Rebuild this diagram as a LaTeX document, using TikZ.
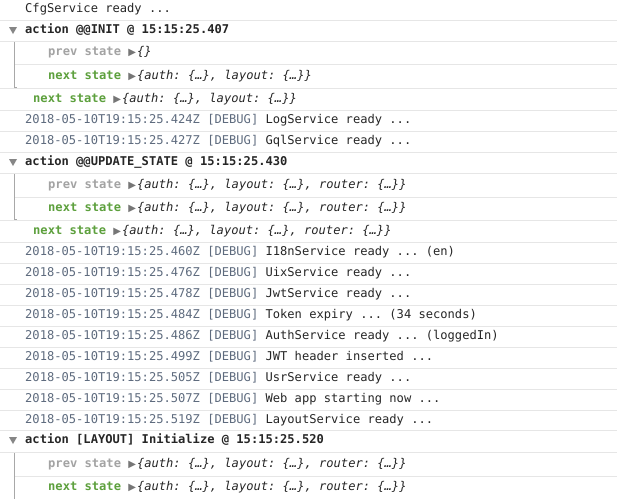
\documentclass[tikz,border=0pt]{standalone}
\usepackage{fontspec}
\setmonofont{DejaVu Sans Mono}
\newfontfamily\symfont{DejaVu Sans}
\definecolor{stampcol}{HTML}{5E6B7E}
\definecolor{msgcol}{HTML}{262626}
\definecolor{prevcol}{HTML}{A3A3A3}
\definecolor{nextcol}{HTML}{5DA03D}
\definecolor{sepcol}{HTML}{E6E6E6}
\definecolor{grpcol}{HTML}{A8A8A8}
\newcommand{\objtri}{{\color{grpcol!70!black}\symfont\fontsize{10}{10}\selectfont ▶}\kern1pt}
\newcommand{\prevst}[1]{{\color{prevcol}\bfseries prev state} \objtri{\itshape\color{msgcol}#1}}
\newcommand{\nextst}[1]{{\color{nextcol}\bfseries next state} \objtri{\itshape\color{msgcol}#1}}
\newcommand{\logrow}[2]{{\color{stampcol}#1 [DEBUG]} {\color{msgcol}#2}}
\begin{document}
\begin{tikzpicture}[x=1pt, y=-1pt,
  logtext/.style={anchor=west, inner sep=0pt, font=\ttfamily\fontsize{12.1}{14}\selectfont, text=msgcol},
  sepline/.style={sepcol, line width=0.8pt},
  grpline/.style={grpcol, line width=0.8pt},
  opentri/.style={fill=grpcol!80!black, draw=none}]
  \useasboundingbox[fill=white] (0,0) rectangle (617,499);
  % separators
  \foreach \y in {20,41,88,110,131,152,173,220,242,263,284,305,326,347,368,389,410,430,452}
    \draw[sepline] (0,\y) -- (617,\y);
  \foreach \y in {64,197,476}
    \draw[sepline] (14,\y) -- (617,\y);
  % group brackets
  \draw[grpline] (14,42) -- (14,87) -- (17,87);
  \draw[grpline] (14,174) -- (14,219) -- (17,219);
  \draw[grpline] (14,453) -- (14,499);
  % open triangles
  \foreach \y in {30,162,440}
    \fill[opentri] (9,\y-3) -- (17,\y-3) -- (13,\y+4) -- cycle;
  % rows
  \node[logtext] (cfg) at (25,9) {CfgService ready ...};
  \node[logtext] (act1) at (25,30) {\bfseries action @@INIT @ 15:15:25.407};
  \node[logtext] (prev1) at (48,52) {\prevst{\{\}}};
  \node[logtext] (next1) at (48,76) {\nextst{\{auth: \{…\}, layout: \{…\}\}}};
  \node[logtext] (out1) at (33,99) {\nextst{\{auth: \{…\}, layout: \{…\}\}}};
  \node[logtext] (log1) at (25,120) {\logrow{2018-05-10T19:15:25.424Z}{LogService ready ...}};
  \node[logtext] (log2) at (25,141) {\logrow{2018-05-10T19:15:25.427Z}{GqlService ready ...}};
  \node[logtext] (act2) at (25,162) {\bfseries action @@UPDATE\_STATE @ 15:15:25.430};
  \node[logtext] (prev2) at (48,185) {\prevst{\{auth: \{…\}, layout: \{…\}, router: \{…\}\}}};
  \node[logtext] (next2) at (48,208) {\nextst{\{auth: \{…\}, layout: \{…\}, router: \{…\}\}}};
  \node[logtext] (out2) at (33,231) {\nextst{\{auth: \{…\}, layout: \{…\}, router: \{…\}\}}};
  \node[logtext] (log3) at (25,252) {\logrow{2018-05-10T19:15:25.460Z}{I18nService ready ... (en)}};
  \node[logtext] (log4) at (25,273) {\logrow{2018-05-10T19:15:25.476Z}{UixService ready ...}};
  \node[logtext] (log5) at (25,294) {\logrow{2018-05-10T19:15:25.478Z}{JwtService ready ...}};
  \node[logtext] (log6) at (25,315) {\logrow{2018-05-10T19:15:25.484Z}{Token expiry ... (34 seconds)}};
  \node[logtext] (log7) at (25,336) {\logrow{2018-05-10T19:15:25.486Z}{AuthService ready ... (loggedIn)}};
  \node[logtext] (log8) at (25,357) {\logrow{2018-05-10T19:15:25.499Z}{JWT header inserted ...}};
  \node[logtext] (log9) at (25,378) {\logrow{2018-05-10T19:15:25.505Z}{UsrService ready ...}};
  \node[logtext] (log10) at (25,399) {\logrow{2018-05-10T19:15:25.507Z}{Web app starting now ...}};
  \node[logtext] (log11) at (25,420) {\logrow{2018-05-10T19:15:25.519Z}{LayoutService ready ...}};
  \node[logtext] (act3) at (25,440) {\bfseries action [LAYOUT] Initialize @ 15:15:25.520};
  \node[logtext] (prev3) at (48,464) {\prevst{\{auth: \{…\}, layout: \{…\}, router: \{…\}\}}};
  \node[logtext] (next3) at (48,487) {\nextst{\{auth: \{…\}, layout: \{…\}, router: \{…\}\}}};
\end{tikzpicture}
\end{document}
